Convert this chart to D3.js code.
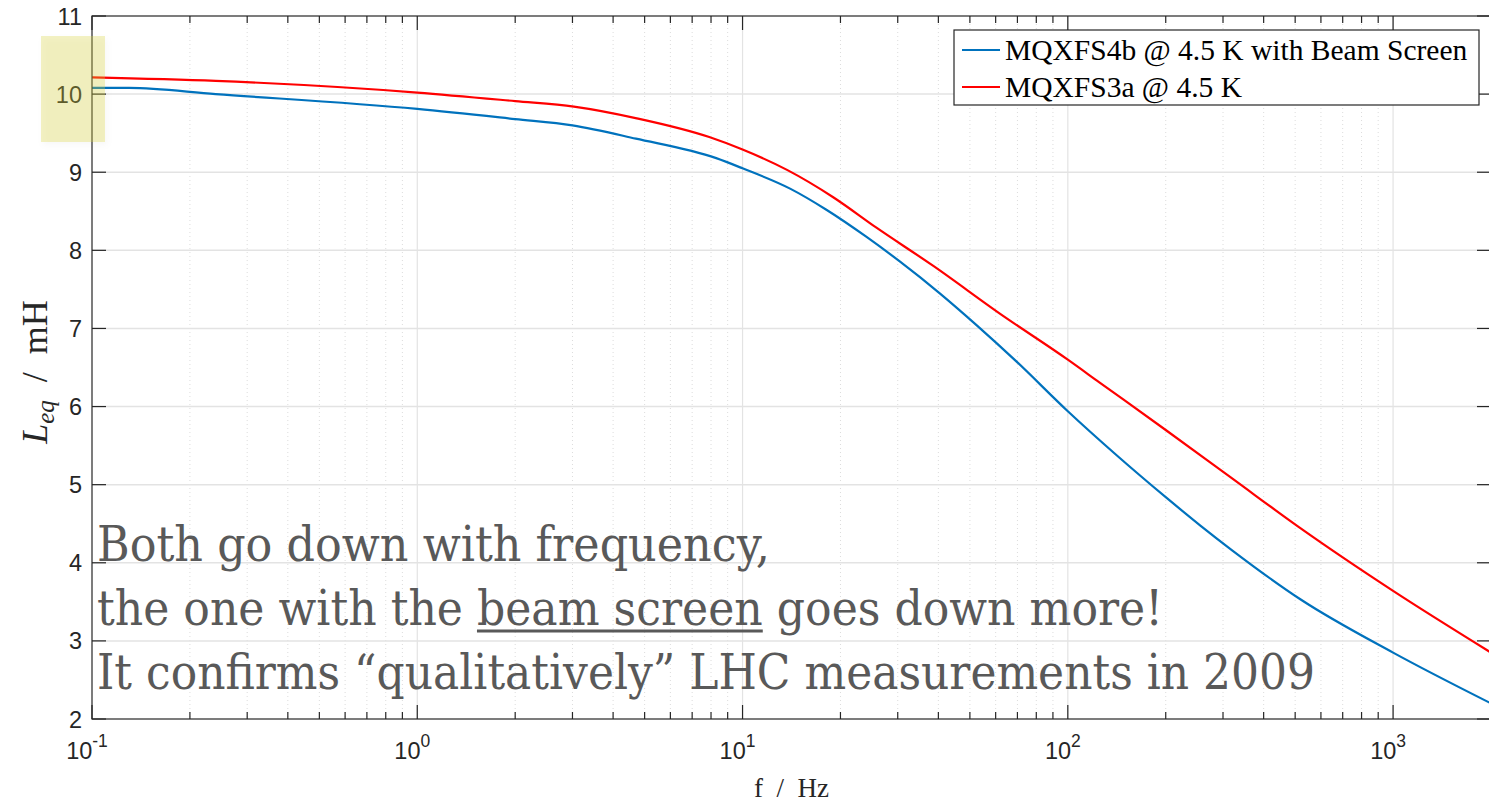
<!DOCTYPE html>
<html>
<head>
<meta charset="utf-8">
<script src="https://cdn.jsdelivr.net/npm/d3@7"></script>
<style>
  html, body { margin: 0; padding: 0; background: #fff; }
  svg { display: block; }
</style>
</head>
<body>
<svg id="chart" width="1489" height="803"></svg>
<script>
// MQXFS4b with beam screen: frequency (Hz) and equivalent inductance (mH)
const freqBeamScreen = [0.1, 0.13, 0.24, 1, 2, 3, 4.7, 8.3, 10, 14, 18.1, 24, 30.5, 40.4, 52.5, 69.6, 100, 141, 200, 255, 320, 520, 1000, 2000];
const leqBeamScreen  = [10.08, 10.08, 10.00, 9.81, 9.68, 9.60, 9.43, 9.18, 9.05, 8.79, 8.52, 8.175, 7.855, 7.45, 7.04, 6.575, 5.94, 5.38, 4.84, 4.48, 4.16, 3.53, 2.85, 2.20];
// MQXFS3a without beam screen
const freqNoScreen = [0.1, 0.24, 1, 2, 3.03, 4.73, 7.9, 10, 13.7, 19, 25.8, 38.6, 61.8, 100, 125, 200, 320, 520, 1000, 2000];
const leqNoScreen  = [10.215, 10.17, 10.02, 9.91, 9.84, 9.69, 9.45, 9.29, 9.03, 8.68, 8.29, 7.80, 7.19, 6.60, 6.31, 5.70, 5.08, 4.44, 3.64, 2.85];

const seriesNames = ["MQXFS4b @ 4.5 K with Beam Screen", "MQXFS3a @ 4.5 K"];
const seriesColors = ["#0072BD", "#FF0000"];
const xMajorTicks = [0.1, 1, 10, 100, 1000];
const xTickExponents = ["-1", "0", "1", "2", "3"];
const yTicks = [2, 3, 4, 5, 6, 7, 8, 9, 10, 11];
const noteLines = [
  "Both go down with frequency,",
  "the one with the beam screen goes down more!",
  "It confirms \u201Cqualitatively\u201D LHC measurements in 2009"
];
const underlined = "beam screen";

const svg = d3.select("#chart");
const L = 92, R = 1491, T = 16, B = 719;

const x = d3.scaleLog().domain([0.1, 2000]).range([L, R]);
const y = d3.scaleLinear().domain([2, 11]).range([B, T]);

const axisColor = "#262626";
const tickFont = "'Liberation Sans', Arial, Helvetica, sans-serif";
const serif = "'Liberation Serif', 'Times New Roman', serif";

// minor x positions (2..9 in each decade)
const xMinor = [];
for (let e = -1; e <= 3; e++) {
  for (let m = 2; m <= 9; m++) {
    const v = m * Math.pow(10, e);
    if (v < 2000) xMinor.push(v);
  }
}

const grid = svg.append("g");
// minor grid (dotted)
grid.selectAll("line.minor").data(xMinor).join("line")
  .attr("x1", d => x(d)).attr("x2", d => x(d))
  .attr("y1", T).attr("y2", B)
  .attr("stroke", "#dcdcdc").attr("stroke-width", 1)
  .attr("stroke-dasharray", "1,3");
// major vertical grid
grid.selectAll("line.vmaj").data(xMajorTicks.slice(1)).join("line")
  .attr("x1", d => x(d)).attr("x2", d => x(d))
  .attr("y1", T).attr("y2", B)
  .attr("stroke", "#e3e3e3").attr("stroke-width", 1.2);
// major horizontal grid
grid.selectAll("line.hmaj").data(yTicks.slice(1, -1)).join("line")
  .attr("x1", L).attr("x2", R)
  .attr("y1", d => y(d)).attr("y2", d => y(d))
  .attr("stroke", "#e3e3e3").attr("stroke-width", 1.5);

// data lines
const line = d3.line().x(d => x(d[0])).y(d => y(d[1])).curve(d3.curveMonotoneX);
const series = [
  freqBeamScreen.map((f, i) => [f, leqBeamScreen[i]]),
  freqNoScreen.map((f, i) => [f, leqNoScreen[i]])
];
svg.append("g").selectAll("path").data(series).join("path")
  .attr("d", line)
  .attr("fill", "none")
  .attr("stroke", (d, i) => seriesColors[i])
  .attr("stroke-width", 2.2);

// box and ticks
const ax = svg.append("g").attr("stroke", axisColor).attr("stroke-width", 1.2);
ax.append("rect").attr("x", L).attr("y", T).attr("width", R - L).attr("height", B - T)
  .attr("fill", "none");
// x ticks, bottom and top
ax.selectAll("line.xmaj").data(xMajorTicks).join("line")
  .attr("x1", d => x(d)).attr("x2", d => x(d)).attr("y1", B).attr("y2", B - 14);
ax.selectAll("line.xmajt").data(xMajorTicks).join("line")
  .attr("x1", d => x(d)).attr("x2", d => x(d)).attr("y1", T).attr("y2", T + 14);
ax.selectAll("line.xmin").data(xMinor).join("line")
  .attr("x1", d => x(d)).attr("x2", d => x(d)).attr("y1", B).attr("y2", B - 7);
ax.selectAll("line.xmint").data(xMinor).join("line")
  .attr("x1", d => x(d)).attr("x2", d => x(d)).attr("y1", T).attr("y2", T + 7);
// y ticks, left and right
ax.selectAll("line.yl").data(yTicks).join("line")
  .attr("x1", L).attr("x2", L + 14).attr("y1", d => y(d)).attr("y2", d => y(d));
ax.selectAll("line.yr").data(yTicks).join("line")
  .attr("x1", R).attr("x2", R - 14).attr("y1", d => y(d)).attr("y2", d => y(d));

// y tick labels
svg.append("g").selectAll("text").data(yTicks).join("text")
  .attr("x", 82).attr("y", d => y(d) + 8.5)
  .attr("text-anchor", "end")
  .attr("font-family", tickFont).attr("font-size", 23.5)
  .attr("fill", axisColor)
  .text(d => d);

// x tick labels: 10 with exponent
const xl = svg.append("g").selectAll("text").data(xMajorTicks).join("text")
  .attr("x", d => x(d) - 5).attr("y", 759)
  .attr("text-anchor", "middle")
  .attr("font-family", tickFont).attr("font-size", 23.5)
  .attr("fill", axisColor);
xl.append("tspan").text("10");
xl.append("tspan").attr("dy", -12).attr("font-size", 17.5).text((d, i) => xTickExponents[i]);

// axis titles
svg.append("text")
  .attr("x", (L + R) / 2).attr("y", 797)
  .attr("text-anchor", "middle")
  .attr("font-family", serif).attr("font-size", 27)
  .attr("fill", axisColor)
  .attr("xml:space", "preserve")
  .text("f  /  Hz");

const ylab = svg.append("text")
  .attr("transform", "translate(47,372) rotate(-90)")
  .attr("text-anchor", "middle")
  .attr("font-family", serif).attr("font-size", 36)
  .attr("fill", axisColor)
  .attr("xml:space", "preserve");
ylab.append("tspan").attr("font-style", "italic").text("L");
ylab.append("tspan").attr("font-style", "italic").attr("font-size", 25).attr("dy", 7).text("eq");
ylab.append("tspan").attr("dy", -7).text("  /  mH");

// legend
const lg = svg.append("g");
lg.append("rect").attr("x", 954).attr("y", 30).attr("width", 525).attr("height", 75)
  .attr("fill", "#fff").attr("stroke", axisColor).attr("stroke-width", 1.2);
const rows = lg.selectAll("g.row").data(seriesNames).join("g")
  .attr("transform", (d, i) => `translate(0,${50 + i * 37})`);
rows.append("line").attr("x1", 962).attr("x2", 1000).attr("y1", 0).attr("y2", 0)
  .attr("stroke", (d, i) => seriesColors[i]).attr("stroke-width", 2.2);
rows.append("text").attr("x", 1005).attr("y", 10)
  .attr("font-family", serif).attr("font-size", 29.5)
  .attr("fill", "#000")
  .text(d => d);

// annotation
const noteWidths = [673, 1066, 1218];
const note = svg.append("g")
  .attr("font-family", "'DejaVu Serif', serif").attr("font-size", 49)
  .attr("fill", "#595959");
noteLines.forEach((txt, i) => {
  const baseY = 561 + i * 64;
  const t = note.append("text")
    .attr("x", 97).attr("y", baseY)
    .attr("textLength", noteWidths[i])
    .attr("lengthAdjust", "spacingAndGlyphs")
    .text(txt);
  const k = txt.indexOf(underlined);
  if (k >= 0) {
    const node = t.node();
    const x0 = node.getStartPositionOfChar(k).x;
    const x1 = node.getEndPositionOfChar(k + underlined.length - 1).x;
    note.append("line")
      .attr("x1", x0).attr("x2", x1)
      .attr("y1", baseY + 6).attr("y2", baseY + 6)
      .attr("stroke", "#595959").attr("stroke-width", 3);
  }
});

// highlight on the 10 mH tick label
const defs = svg.append("defs");
const f = defs.append("filter").attr("id", "shadow")
  .attr("x", "-30%").attr("y", "-30%").attr("width", "160%").attr("height", "160%");
f.append("feDropShadow").attr("dx", 2).attr("dy", 3).attr("stdDeviation", 3)
  .attr("flood-color", "#000").attr("flood-opacity", 0.1);
svg.append("rect")
  .attr("x", 41).attr("y", 36).attr("width", 64).attr("height", 106)
  .attr("fill", "rgb(214,208,60)").attr("fill-opacity", 0.3)
  .attr("filter", "url(#shadow)");
</script>
</body>
</html>
